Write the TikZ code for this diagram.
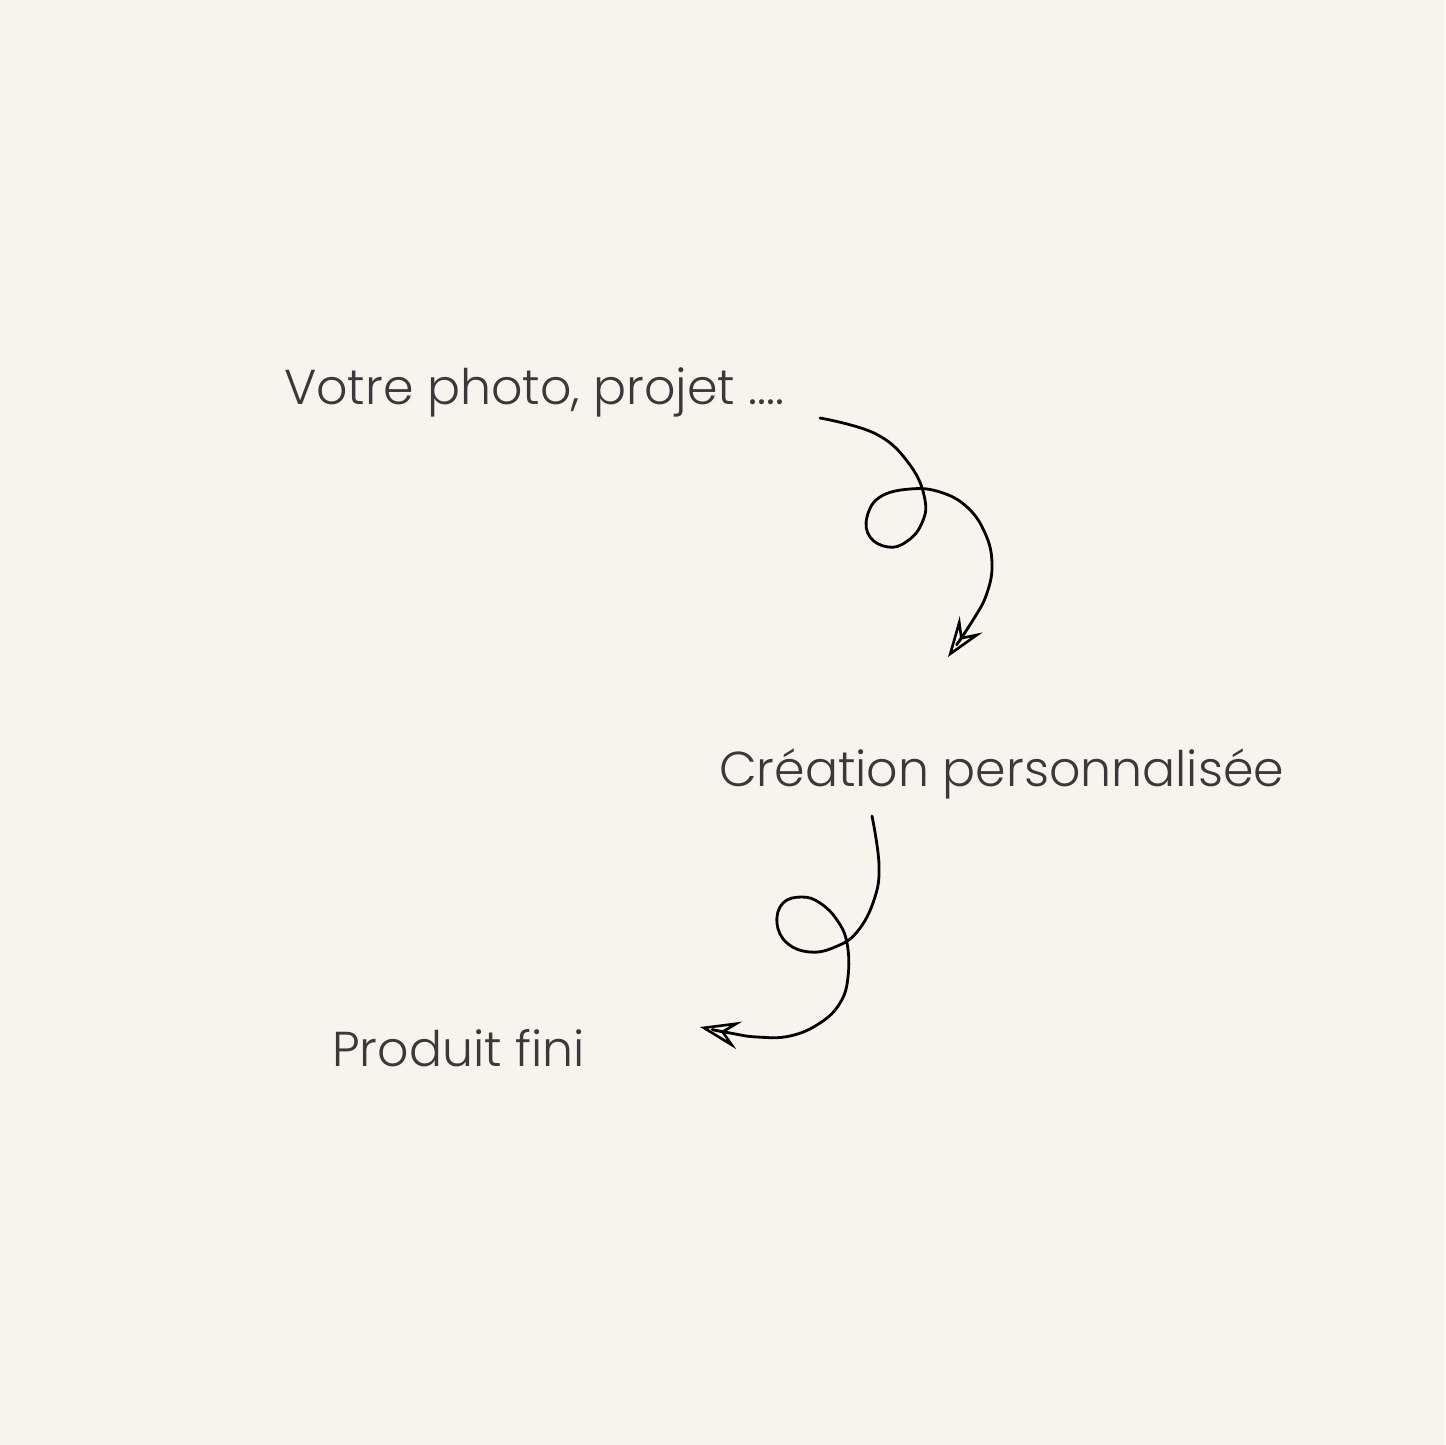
\documentclass[tikz,border=0pt]{standalone}
\usepackage{fontspec}
\setmainfont{Poppins Light}
\usetikzlibrary{arrows.meta}
\definecolor{fond}{HTML}{F7F4EE}
\definecolor{texte}{HTML}{3A3838}
\tikzset{etape/.style={anchor=base west,inner sep=0pt,text=texte,font=\fontsize{49}{58}\selectfont},
  fleche/.style={line width=2.8pt,line cap=round,line join=round,-{Stealth[open,length=40pt,width=28pt,inset=15pt,line width=2.6pt]}}}
\begin{document}
\begin{tikzpicture}[x=1pt,y=-1pt]
    \fill[fond](0,0)rectangle(1445,1445);%fond
    \useasboundingbox(0,0)rectangle(1445,1445);
    \node[etape](photo)at(284,404){Votre photo, projet ....};
    \node[etape](creation)at(719,786){Création personnalisée};
    \node[etape](produit)at(332,1066){Produit fini};
    \coordinate(d1)at(820,418);\coordinate(f1)at(948,657);%flèche 1
    \coordinate(d2)at(872,816);\coordinate(f2)at(700,1027);%flèche 2
    \draw[fleche]plot[smooth,tension=0.7]coordinates{(d1)(876,434)(910,465)(925,500)(921,525)(906,542)(888,547)(870,537)(867,517)(880,497)(910,489)(940,492)(967,507)(985,533)(992,563)(987,593)(973,620)(f1)};
    \draw[fleche]plot[smooth,tension=0.7]coordinates{(d2)(879,865)(874,900)(857,932)(835,947)(810,952)(787,943)(777,923)(783,903)(802,897)(820,903)(837,920)(847,943)(848,977)(840,1003)(820,1023)(790,1036)(757,1037)(730,1033)(f2)};
\end{tikzpicture}
\end{document}
